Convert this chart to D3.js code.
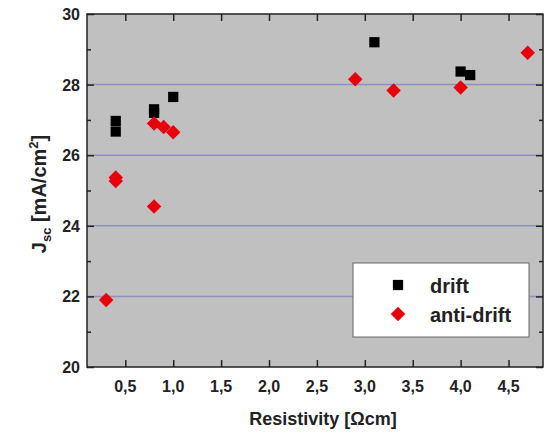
<!DOCTYPE html>
<html>
<head>
<meta charset="utf-8">
<script src="https://cdn.jsdelivr.net/npm/d3@7"></script>
<style>
  body { margin: 0; background: #fff; }
  text { font-family: "Liberation Sans", Arial, sans-serif; }
</style>
</head>
<body>
<div id="chart"></div>
<script>
// values
var driftX = [0.4, 0.4, 0.8, 0.8, 1.0, 3.1, 4.0, 4.1];
var driftY = [26.97, 26.67, 27.3, 27.2, 27.65, 29.2, 28.37, 28.27];
var antiX = [0.3, 0.4, 0.4, 0.8, 0.8, 0.9, 1.0, 2.9, 3.3, 4.0, 4.7];
var antiY = [21.9, 25.37, 25.27, 24.55, 26.9, 26.8, 26.65, 28.15, 27.83, 27.92, 28.9];
var xTicks = [0.5, 1.0, 1.5, 2.0, 2.5, 3.0, 3.5, 4.0, 4.5];
var yTicks = [20, 22, 24, 26, 28, 30];
var yMinor = [21, 23, 25, 27, 29];
var gridVals = [22, 24, 26, 28];

var width = 546, height = 434;
var pLeft = 87, pRight = 543, pTop = 14, pBottom = 367;

var svg = d3.select("#chart").append("svg")
    .attr("width", width)
    .attr("height", height);

var x = d3.scaleLinear().domain([0.1, 4.86]).range([pLeft, pRight]);
var y = d3.scaleLinear().domain([20, 30]).range([pBottom, pTop]);

var fmt = function(d) { return d3.format(".1f")(d).replace(".", ","); };

// plot background
svg.append("rect")
    .attr("x", pLeft).attr("y", pTop)
    .attr("width", pRight - pLeft).attr("height", pBottom - pTop)
    .attr("fill", "#c0c0c0");

// grid lines
svg.selectAll("line.grid").data(gridVals).enter().append("line")
    .attr("class", "grid")
    .attr("x1", pLeft).attr("x2", pRight)
    .attr("y1", function(d) { return y(d); })
    .attr("y2", function(d) { return y(d); })
    .attr("stroke", "#8e90c2")
    .attr("stroke-width", 1.5);

// axes (ticks pointing inward)
var ax = function(g) { g.select(".domain").remove(); };

svg.append("g").attr("transform", "translate(0," + pBottom + ")")
    .call(d3.axisTop(x).tickValues(xTicks).tickSize(7).tickFormat(""))
    .call(ax);
svg.append("g").attr("transform", "translate(0," + pTop + ")")
    .call(d3.axisBottom(x).tickValues(xTicks).tickSize(7).tickFormat(""))
    .call(ax);
svg.append("g").attr("transform", "translate(" + pLeft + ",0)")
    .call(d3.axisRight(y).tickValues(yTicks).tickSize(7).tickFormat(""))
    .call(ax);
svg.append("g").attr("transform", "translate(" + pLeft + ",0)")
    .call(d3.axisRight(y).tickValues(yMinor).tickSize(4).tickFormat(""))
    .call(ax);
svg.append("g").attr("transform", "translate(" + pRight + ",0)")
    .call(d3.axisLeft(y).tickValues(yTicks).tickSize(7).tickFormat(""))
    .call(ax);
svg.append("g").attr("transform", "translate(" + pRight + ",0)")
    .call(d3.axisLeft(y).tickValues(yMinor).tickSize(4).tickFormat(""))
    .call(ax);
svg.selectAll(".tick line").attr("stroke", "#222").attr("stroke-width", 1.5);

// frame
svg.append("rect")
    .attr("x", pLeft).attr("y", pTop)
    .attr("width", pRight - pLeft).attr("height", pBottom - pTop)
    .attr("fill", "none").attr("stroke", "#222").attr("stroke-width", 1.5);

// tick labels
svg.selectAll("text.xl").data(xTicks).enter().append("text")
    .attr("x", function(d) { return x(d); })
    .attr("y", pBottom + 25)
    .attr("text-anchor", "middle")
    .style("font-size", "16px").style("font-weight", "bold")
    .attr("fill", "#222")
    .text(fmt);
svg.selectAll("text.yl").data(yTicks).enter().append("text")
    .attr("x", pLeft - 7)
    .attr("y", function(d) { return y(d) + 6; })
    .attr("text-anchor", "end")
    .style("font-size", "16px").style("font-weight", "bold")
    .attr("fill", "#222")
    .text(function(d) { return d; });

// axis titles
svg.append("text")
    .attr("x", (pLeft + pRight) / 2 + 8)
    .attr("y", 425)
    .attr("text-anchor", "middle")
    .style("font-size", "18px").style("font-weight", "bold")
    .attr("fill", "#222")
    .text("Resistivity [Ωcm]");

var yt = svg.append("text")
    .attr("transform", "translate(46,194) rotate(-90)")
    .attr("text-anchor", "middle")
    .style("font-size", "20px").style("font-weight", "bold")
    .attr("fill", "#222");
yt.append("tspan").text("J");
yt.append("tspan").attr("dy", 5).style("font-size", "13px").text("sc");
yt.append("tspan").attr("dy", -5).text(" [mA/cm");
yt.append("tspan").attr("dy", -8).style("font-size", "13px").text("2");
yt.append("tspan").attr("dy", 8).text("]");

// markers
var sq = d3.symbol().type(d3.symbolSquare).size(105);
var dm = d3.symbol().type(d3.symbolSquare).size(105);

svg.selectAll("path.drift").data(d3.range(driftX.length)).enter().append("path")
    .attr("transform", function(i) { return "translate(" + x(driftX[i]) + "," + y(driftY[i]) + ")"; })
    .attr("d", sq)
    .attr("fill", "#000");

svg.selectAll("path.anti").data(d3.range(antiX.length)).enter().append("path")
    .attr("transform", function(i) { return "translate(" + x(antiX[i]) + "," + y(antiY[i]) + ") rotate(45)"; })
    .attr("d", dm)
    .attr("fill", "#e8000b");

// legend
var lg = svg.append("g");
lg.append("rect")
    .attr("x", 353).attr("y", 263)
    .attr("width", 176).attr("height", 74)
    .attr("fill", "#fff").attr("stroke", "#666").attr("stroke-width", 1);
lg.append("path").attr("transform", "translate(398,285)").attr("d", sq).attr("fill", "#000");
lg.append("path").attr("transform", "translate(398,314) rotate(45)").attr("d", dm).attr("fill", "#e8000b");
lg.append("text").attr("x", 430).attr("y", 293)
    .style("font-size", "20px").style("font-weight", "bold").attr("fill", "#222").text("drift");
lg.append("text").attr("x", 430).attr("y", 322)
    .style("font-size", "20px").style("font-weight", "bold").attr("fill", "#222").text("anti-drift");
</script>
</body>
</html>
